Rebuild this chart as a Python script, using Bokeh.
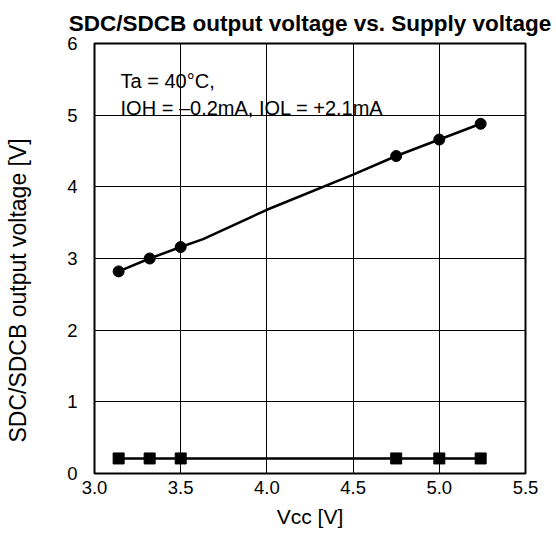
from bokeh.plotting import figure
from bokeh.models import Range1d, FixedTicker, Label, NumeralTickFormatter
from bokeh.embed import file_html
from bokeh.resources import INLINE

# Data
vcc_points = [3.14, 3.32, 3.50, 4.75, 5.00, 5.24]
voh_points = [2.82, 3.00, 3.16, 4.43, 4.66, 4.88]
vol_points = [0.21, 0.21, 0.21, 0.21, 0.21, 0.21]
# the high-level curve passes through these extra (unmarked) points
voh_curve_x = [3.14, 3.32, 3.50, 3.63, 4.00, 4.50, 4.75, 5.00, 5.24]
voh_curve_y = [2.82, 3.00, 3.16, 3.27, 3.68, 4.17, 4.43, 4.66, 4.88]

x_ticks = [3.0, 3.5, 4.0, 4.5, 5.0, 5.5]
y_ticks = [0, 1, 2, 3, 4, 5, 6]

title_text = "SDC/SDCB output voltage vs. Supply voltage"
x_label = "Vcc [V]"
y_label = "SDC/SDCB output voltage [V]"
note_lines = ["Ta = 40\u00b0C,", "IOH = \u20130.2mA, IOL = +2.1mA"]

FONT = "Liberation Sans"

p = figure(width=556, height=539, x_range=Range1d(3.0, 5.5), y_range=Range1d(0, 6),
           output_backend="svg", toolbar_location=None,
           min_border_left=94, min_border_right=31, min_border_top=43, min_border_bottom=66)

p.title.text = title_text
p.title.align = "center"
p.title.text_font = FONT
p.title.text_font_size = "22.5px"
p.title.text_font_style = "bold"
p.title.text_color = "black"
p.title.standoff = 16

p.outline_line_color = "black"
p.outline_line_width = 2
p.outline_line_alpha = 1
p.background_fill_color = "white"
p.border_fill_color = "white"

p.xaxis.ticker = FixedTicker(ticks=x_ticks)
p.yaxis.ticker = FixedTicker(ticks=y_ticks)
p.xaxis.formatter = NumeralTickFormatter(format="0.0")
p.yaxis.formatter = NumeralTickFormatter(format="0")

for ax in (p.xaxis[0], p.yaxis[0]):
    ax.axis_line_color = None
    ax.major_tick_line_color = None
    ax.minor_tick_line_color = None
    ax.major_tick_in = 0
    ax.major_tick_out = 0
    ax.minor_tick_in = 0
    ax.minor_tick_out = 0
    ax.major_label_text_font = FONT
    ax.major_label_text_font_size = "18.5px"
    ax.major_label_text_color = "black"
    ax.axis_label_text_font = FONT
    ax.axis_label_text_font_style = "normal"
    ax.axis_label_text_color = "black"

p.xaxis.axis_label = x_label
p.xaxis.axis_label_text_font_size = "21px"
p.xaxis.major_label_standoff = 7
p.xaxis.axis_label_standoff = 8

# vertical axis title: trailing no-break spaces move the visible words a little below centre,
# as in the reference
p.yaxis.axis_label = y_label + "\u00a0" * 10
p.yaxis.axis_label_text_font_size = "23px"
p.yaxis.major_label_standoff = 17
p.yaxis.axis_label_standoff = 33

p.xgrid.grid_line_color = "black"
p.ygrid.grid_line_color = "black"
p.xgrid.grid_line_width = 1
p.ygrid.grid_line_width = 1

p.line(voh_curve_x, voh_curve_y, line_color="black", line_width=2.5)
p.scatter(vcc_points, voh_points, marker="circle", size=11, fill_color="black", line_color="black")
p.line(vcc_points, vol_points, line_color="black", line_width=2.5)
p.scatter(vcc_points, vol_points, marker="square", size=11, fill_color="black", line_color="black")

note_y = [5.474, 5.097]
for txt, yy in zip(note_lines, note_y):
    p.add_layout(Label(x=3.151, y=yy, text=txt, text_font=FONT, text_font_size="20px",
                       text_color="black", text_baseline="alphabetic", text_align="left"))

open("out.html", "w").write(file_html(p, INLINE))
